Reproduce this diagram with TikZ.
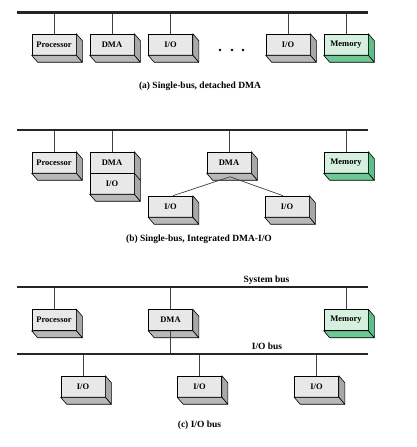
\documentclass[tikz,border=0pt]{standalone}
\usepackage{fontspec}
\setmainfont{Liberation Serif}
\usetikzlibrary{calc}
\definecolor{frontgray}{HTML}{E8E8E8}
\definecolor{sidegray}{HTML}{A8A8A8}
\definecolor{botgray}{HTML}{B8B8B8}
\definecolor{frontgreen}{HTML}{D6F0E0}
\definecolor{sidegreen}{HTML}{5CBF88}
\definecolor{botgreen}{HTML}{6CC894}
\definecolor{linegray}{HTML}{404040}
\tikzset{
  unitbox/.style={draw=black, line width=0.6pt, fill=frontgray, minimum width=44pt, minimum height=21pt, inner sep=0pt, font=\fontsize{8.5}{10}\selectfont\bfseries},
  membox/.style={unitbox, fill=frontgreen},
  bus/.style={line width=2.6pt, draw=black!85},
  conn/.style={line width=0.7pt, draw=linegray},
  caption/.style={font=\fontsize{9.5}{11}\selectfont\bfseries, inner sep=0pt},
  buslabel/.style={font=\fontsize{9.5}{11}\selectfont\bfseries, inner sep=0pt},
  face/.style={draw=black, line width=0.6pt, line join=round},
}
% side and bottom faces of a box node
\newcommand{\sidefaces}[3]{% name, side colour, bottom colour
  \path[face, fill=#2] (#1.north east) -- ++(6,-7) -- ($(#1.south east)+(6,-7)$) -- (#1.south east) -- cycle;
  \path[face, fill=#3] (#1.south west) -- ++(6,-7) -- ($(#1.south east)+(6,-7)$) -- (#1.south east) -- cycle;
}
\newcommand{\sideonly}[2]{%
  \path[face, fill=#2] (#1.north east) -- ++(6,-7) -- ($(#1.south east)+(6,-7)$) -- (#1.south east) -- cycle;
}
\begin{document}
\begin{tikzpicture}[x=1pt,y=1pt]
\useasboundingbox (0,0) rectangle (416,447);

% ---------------- (a) ----------------
\coordinate (aL) at (17,434.3);
\coordinate (aR) at (368,434.3);
\node[unitbox] (aproc) at (54,402.5) {Processor};
\node[unitbox] (adma) at (112,402.5) {DMA};
\node[unitbox] (aio1) at (170.5,402.5) {I/O};
\node[unitbox] (aio2) at (288,402.5) {I/O};
\node[membox] (amem) at (346,402.5) {Memory};
\foreach \n in {aproc,adma,aio1,aio2} {\sidefaces{\n}{sidegray}{botgray}}
\sidefaces{amem}{sidegreen}{botgreen}
\foreach \n in {aproc,adma,aio1,aio2,amem} {\draw[conn] (\n.north) -- (\n.north |- aL);}
\draw[bus] (aL) -- (aR);
\foreach \x [count=\i] in {220,232,243} {\node[circle, fill=black, inner sep=0pt, minimum size=2.6pt] (adot\i) at (\x,397) {};}
\node[caption] (capa) at (200,361) {(a) Single-bus, detached DMA};

% ---------------- (b) ----------------
\coordinate (bL) at (17,317);
\coordinate (bR) at (368,317);
\node[unitbox] (bproc) at (54,284.5) {Processor};
\node[unitbox] (bdma1) at (112,284.5) {DMA};
\node[unitbox] (bio1) at (112,263.5) {I/O};
\node[unitbox] (bdma2) at (229,284.5) {DMA};
\node[membox] (bmem) at (346,284.5) {Memory};
\node[unitbox] (biol) at (170.5,240.5) {I/O};
\node[unitbox] (bior) at (287,240.5) {I/O};
\foreach \n in {bproc,bio1,bdma2,biol,bior} {\sidefaces{\n}{sidegray}{botgray}}
\sideonly{bdma1}{sidegray}
\sidefaces{bmem}{sidegreen}{botgreen}
\foreach \n in {bproc,bdma1,bdma2,bmem} {\draw[conn] (\n.north) -- (\n.north |- bL);}
\coordinate (bapex) at ($(bdma2.south)+(1,-3.5)$);
\draw[conn] (bapex) -- ($(biol.north)+(2.5,0)$);
\draw[conn] (bapex) -- ($(bior.north)+(-4,0)$);
\draw[bus] (bL) -- (bR);
\node[caption] (capb) at (199,208) {(b) Single-bus, Integrated DMA-I/O};

% ---------------- (c) ----------------
\coordinate (cL) at (17,160);
\coordinate (cR) at (368,160);
\coordinate (dL) at (17,93);
\coordinate (dR) at (368,93);
\node[unitbox] (cproc) at (54,127) {Processor};
\node[unitbox] (cdma) at (170.5,127) {DMA};
\node[membox] (cmem) at (346,127) {Memory};
\node[unitbox] (cio1) at (83,60.5) {I/O};
\node[unitbox] (cio2) at (199.5,60.5) {I/O};
\node[unitbox] (cio3) at (316.5,60.5) {I/O};
\foreach \n in {cproc,cdma,cio1,cio2,cio3} {\sidefaces{\n}{sidegray}{botgray}}
\sidefaces{cmem}{sidegreen}{botgreen}
\foreach \n in {cproc,cdma,cmem} {\draw[conn] (\n.north) -- (\n.north |- cL);}
\draw[conn] (cdma.south) -- (cdma.south |- dL);
\foreach \n in {cio1,cio2,cio3} {\draw[conn] (\n.north) -- (\n.north |- dL);}
\draw[bus] (cL) -- (cR);
\draw[bus] (dL) -- (dR);
\node[buslabel] (sysbus) at (266.5,167) {System bus};
\node[buslabel] (iobus) at (267,101) {I/O bus};
\node[caption] (capc) at (199.5,22) {(c) I/O bus};
\end{tikzpicture}
\end{document}
